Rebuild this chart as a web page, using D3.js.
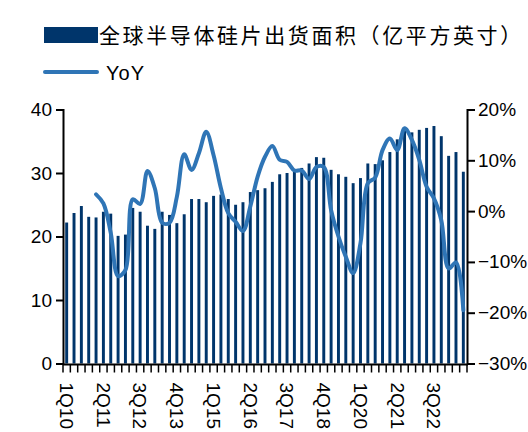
<!DOCTYPE html>
<html lang="zh">
<head>
<meta charset="utf-8">
<title>全球半导体硅片出货面积</title>
<script src="https://d3js.org/d3.v7.min.js"></script>
<style>
  body { margin: 0; background: #fff; }
  svg text { font-family: "Liberation Sans", Arial, "Noto Sans CJK SC", sans-serif; fill: #000; }
  .cjk { font-family: "Noto Sans CJK SC", sans-serif; }
</style>
</head>
<body>
<div id="chart"></div>
<script>
// quarters 1Q10 .. 3Q23
var quarters = [];
for (var yr = 10; yr <= 23; yr++) {
  for (var q = 1; q <= 4; q++) {
    if (yr === 23 && q > 3) break;
    quarters.push(q + "Q" + yr);
  }
}

// shipment area, 亿平方英寸
var area = [
  22.2, 23.7, 24.8, 23.1, 23.0, 23.9, 23.6, 20.1, 20.3, 24.5,
  23.9, 21.7, 21.2, 23.9, 23.4, 22.1, 23.5, 25.9, 25.9, 25.4,
  26.4, 26.6, 25.9, 25.0, 25.4, 27.0, 27.3, 27.6, 28.6, 29.8,
  30.0, 30.3, 30.8, 31.5, 32.5, 32.4, 30.5, 29.8, 29.4, 28.4,
  29.2, 31.5, 31.4, 32.0, 33.3, 35.3, 36.7, 36.4, 36.8, 37.1,
  37.4, 35.8, 32.7, 33.3, 30.2
];

// YoY %, starts at 1Q11
var yoy = [
  null, null, null, null,
  3.3, 1.5, -4.3, -12.8, -11.6, 2.3,
  1.4, 7.9, 4.5, -2.3, -2.3, 2.8, 11.2, 8.1, 11.4, 15.6,
  11.0, 4.5, -0.4, -2.1, -3.9, 0.9, 6.8, 10.7, 12.8, 10.1,
  9.7, 8.0, 8.0, 6.3, 8.7, 8.7, 0.2, -5.0, -9.0, -12.2,
  -6.3, 5.5, 6.6, 12.0, 14.3, 12.0, 16.3, 14.0, 10.1, 4.8,
  2.5, -1.8, -11.3, -10.1, -19.5
];

var leftTicks = [0, 10, 20, 30, 40];
var rightTicks = [-30, -20, -10, 0, 10, 20];
var labelQuarters = quarters.filter(function(d, i) { return i % 5 === 0; });

var W = 528, H = 432;
var plotL = 63, plotR = 467, plotT = 109.5, plotB = 363.5;

var svg = d3.select("#chart").append("svg")
  .attr("width", W).attr("height", H);

var x = d3.scaleBand().domain(quarters).range([plotL, plotR])
  .paddingInner(0.6).paddingOuter(0.3);
var y = d3.scaleLinear().domain([0, 40]).range([plotB, plotT]);
var y2 = d3.scaleLinear().domain([-30, 20]).range([plotB, plotT]);

// bars
svg.selectAll("rect.bar")
  .data(area)
  .enter().append("rect")
  .attr("class", "bar")
  .attr("x", function(d, i) { return x(quarters[i]); })
  .attr("y", function(d) { return y(d); })
  .attr("width", x.bandwidth())
  .attr("height", function(d) { return y(0) - y(d); })
  .attr("fill", "#00356b");

// yoy line
var pts = yoy.map(function(d, i) { return {q: quarters[i], v: d}; })
  .filter(function(d) { return d.v !== null; });
var line = d3.line()
  .x(function(d) { return x(d.q) + x.bandwidth() / 2; })
  .y(function(d) { return y2(d.v); })
  .curve(d3.curveCatmullRom.alpha(0.5));
svg.append("path")
  .datum(pts)
  .attr("d", line)
  .attr("fill", "none")
  .attr("stroke", "#2f75b6")
  .attr("stroke-width", 4)
  .attr("stroke-linejoin", "round")
  .attr("stroke-linecap", "round");

// left axis
var yAxis = d3.axisLeft(y).tickValues(leftTicks).tickSize(7).tickPadding(4);
var gl = svg.append("g").attr("transform", "translate(" + plotL + ",0)").call(yAxis);
// right axis
var y2Axis = d3.axisRight(y2).tickValues(rightTicks).tickSize(8).tickPadding(3)
  .tickFormat(function(d) { return (d < 0 ? "\u2212" + Math.abs(d) : d) + "%"; });
var gr = svg.append("g").attr("transform", "translate(" + plotR + ",0)").call(y2Axis);

[gl, gr].forEach(function(g) {
  g.select(".domain").attr("stroke", "#000").attr("stroke-width", 2);
  g.selectAll(".tick line").attr("stroke", "#000").attr("stroke-width", 2);
  g.selectAll(".tick text").attr("font-size", 19).attr("fill", "#000")
    .attr("font-family", "'Liberation Sans', Arial, sans-serif");
});

// bottom axis
svg.append("line")
  .attr("x1", plotL).attr("x2", plotR + 1)
  .attr("y1", plotB + 1).attr("y2", plotB + 1)
  .attr("stroke", "#000").attr("stroke-width", 2);
var gap = (x.step() - x.bandwidth()) / 2;
var bounds = quarters.map(function(q) { return x(q) - gap; });
bounds.push(x(quarters[quarters.length - 1]) + x.bandwidth() + gap);
svg.selectAll("line.xt")
  .data(bounds)
  .enter().append("line")
  .attr("class", "xt")
  .attr("x1", function(d) { return d; }).attr("x2", function(d) { return d; })
  .attr("y1", plotB + 1).attr("y2", plotB + 9)
  .attr("stroke", "#000").attr("stroke-width", 1.5);

svg.selectAll("text.xl")
  .data(labelQuarters)
  .enter().append("text")
  .attr("class", "xl")
  .attr("transform", function(d) {
    return "translate(" + (x(d) + x.bandwidth() / 2) + "," + (plotB + 19) + ") rotate(90)";
  })
  .attr("dy", "0.35em")
  .attr("font-size", 19)
  .text(function(d) { return d; });

// legend
svg.append("rect")
  .attr("x", 44).attr("y", 27).attr("width", 54).attr("height", 16)
  .attr("fill", "#00356b");
svg.append("text")
  .attr("class", "cjk")
  .attr("x", 99).attr("y", 43)
  .attr("font-size", 21)
  .attr("letter-spacing", 2.6)
  .text("全球半导体硅片出货面积（亿平方英寸）");
svg.append("line")
  .attr("x1", 45).attr("x2", 97).attr("y1", 72).attr("y2", 72)
  .attr("stroke", "#2f75b6").attr("stroke-width", 4).attr("stroke-linecap", "round");
svg.append("text")
  .attr("x", 106).attr("y", 80)
  .attr("font-size", 20)
  .attr("letter-spacing", 1)
  .text("YoY");
</script>
</body>
</html>
